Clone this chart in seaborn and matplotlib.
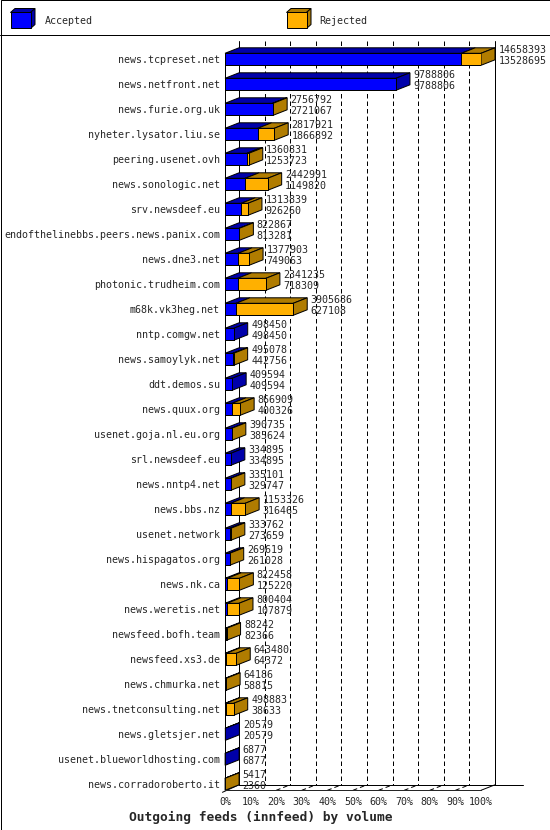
import numpy as np
import pandas as pd
import matplotlib
matplotlib.use("Agg")
import matplotlib.pyplot as plt
from matplotlib.patches import Polygon, Rectangle
import seaborn as sns

# ---------------- data ----------------
hosts = [
    "news.tcpreset.net", "news.netfront.net", "news.furie.org.uk",
    "nyheter.lysator.liu.se", "peering.usenet.ovh", "news.sonologic.net",
    "srv.newsdeef.eu", "endofthelinebbs.peers.news.panix.com", "news.dne3.net",
    "photonic.trudheim.com", "m68k.vk3heg.net", "nntp.comgw.net",
    "news.samoylyk.net", "ddt.demos.su", "news.quux.org",
    "usenet.goja.nl.eu.org", "srl.newsdeef.eu", "news.nntp4.net",
    "news.bbs.nz", "usenet.network", "news.hispagatos.org", "news.nk.ca",
    "news.weretis.net", "newsfeed.bofh.team", "newsfeed.xs3.de",
    "news.chmurka.net", "news.tnetconsulting.net", "news.gletsjer.net",
    "usenet.blueworldhosting.com", "news.corradoroberto.it",
]
total_volume = [
    14658393, 9788806, 2756792, 2817921, 1360831, 2442991, 1313839, 822867,
    1377903, 2341235, 3905686, 498450, 495078, 409594, 866909, 390735,
    334895, 335101, 1153326, 333762, 269619, 822458, 800404, 88242, 643480,
    64186, 498883, 20579, 6877, 5417,
]
accepted_volume = [
    13528695, 9788806, 2721067, 1866892, 1253723, 1149820, 926260, 813281,
    749063, 718309, 627108, 498450, 442756, 409594, 400326, 385624,
    334895, 329747, 316465, 273659, 261028, 125220, 107879, 82366, 64372,
    58815, 38633, 20579, 6877, 2360,
]
legend_labels = ["Accepted", "Rejected"]
tick_values = [0, 10, 20, 30, 40, 50, 60, 70, 80, 90, 100]
tick_labels = ["0%", "10%", "20%", "30%", "40%", "50%", "60%", "70%", "80%", "90%", "100%"]
title = "Outgoing feeds (innfeed) by volume"

# ---------------- style ----------------
BLUE, BLUE_D = "#0000ff", "#0000aa"
ORANGE, ORANGE_D = "#ffb000", "#b07c00"
LW = 0.72
sns.set_style("white")
plt.rcParams["font.family"] = ["DejaVu Sans Mono"]
plt.rcParams["font.size"] = 7.2

W, H = 550, 830
fig = plt.figure(figsize=(W / 100, H / 100), dpi=100)

# background / frame / legend in pixel coordinates
bg = fig.add_axes([0, 0, 1, 1])
bg.set_xlim(0, W)
bg.set_ylim(H, 0)
bg.axis("off")
bg.add_patch(Rectangle((0.5, 0.5), W - 1, H - 1, fill=False, lw=LW, ec="black"))
bg.plot([0, W], [35, 35], color="black", lw=LW)


def cube(axis, x0, y0, w, h, d, dyy, front, dark):
    axis.add_patch(Polygon([(x0, y0), (x0 + w, y0), (x0 + w + d, y0 - dyy), (x0 + d, y0 - dyy)],
                           closed=True, fc=dark, ec="black", lw=LW))
    axis.add_patch(Polygon([(x0 + w, y0), (x0 + w + d, y0 - dyy), (x0 + w + d, y0 + h - dyy), (x0 + w, y0 + h)],
                           closed=True, fc=dark, ec="black", lw=LW))
    axis.add_patch(Rectangle((x0, y0), w, h, fc=front, ec="black", lw=LW))


cube(bg, 10.5, 12.5, 20, 16, 4.5, 4, BLUE, BLUE_D)
bg.text(44.5, 20.5, legend_labels[0], va="center", ha="left", fontsize=7.2)
cube(bg, 286.5, 12.5, 20, 16, 4.5, 4, ORANGE, ORANGE_D)
bg.text(319.5, 20.5, legend_labels[1], va="center", ha="left", fontsize=7.2)
bg.text(260.5, 817, title, ha="center", va="center", fontsize=9.3, fontweight="bold")

# ---------------- main plot ----------------
x0_px, px_per_pct = 225.0, 2.56
row0_px, row_px = 59.3, 25.0
top_px, bot_px = 41.0, 790.3
ax = fig.add_axes([x0_px / W, (H - bot_px) / H, 100 * px_per_pct / W, (bot_px - top_px) / H])
ax.patch.set_alpha(0)

n = len(hosts)
vmax = max(total_volume)
df = pd.DataFrame({
    "host": hosts,
    "total": np.array(total_volume) / vmax * 100,
    "accepted": np.array(accepted_volume) / vmax * 100,
})

bw = 0.48
sns.barplot(data=df, x="total", y="host", orient="h", color=ORANGE, saturation=1,
            width=bw, edgecolor="black", linewidth=LW, errorbar=None, ax=ax)
sns.barplot(data=df, x="accepted", y="host", orient="h", color=BLUE, saturation=1,
            width=bw, edgecolor="black", linewidth=LW, errorbar=None, ax=ax)
for p in ax.patches:
    p.set_zorder(3)

ylo = (top_px - row0_px) / row_px
yhi = (bot_px - row0_px) / row_px
ax.set_xlim(0, 100)
ax.set_ylim(yhi, ylo)

dx = 14.0 / px_per_pct
dy = 5.5 / row_px
floor_back = yhi - dy

# back wall and grid
for p in tick_values[1:-1]:
    ax.plot([p + dx, p + dx], [ylo, floor_back], color="black", lw=LW,
            ls=(0, (4.5, 3)), zorder=0.5, clip_on=False)
for p in tick_values[2:-1]:
    ax.plot([p, p + dx], [yhi, floor_back], color="black", lw=LW,
            ls=(0, (4.5, 3)), zorder=0.5, clip_on=False)
ax.plot([dx, dx], [ylo, floor_back], color="black", lw=LW, zorder=0.6, clip_on=False)
ax.plot([100 + dx, 100 + dx], [ylo, floor_back], color="black", lw=LW, zorder=0.6, clip_on=False)
ax.plot([dx, (523 - x0_px) / px_per_pct], [floor_back, floor_back], color="black", lw=LW,
        zorder=0.6, clip_on=False)
ax.plot([100, 100 + dx], [yhi, floor_back], color="black", lw=LW, zorder=0.6, clip_on=False)
ax.plot([-1.0, dx], [yhi + 0.08, floor_back], color="black", lw=LW, zorder=0.6, clip_on=False)
ax.plot([0, 0], [-bw / 2, yhi], color="black", lw=LW, zorder=4, clip_on=False)

# 3D top and side faces
for i, (t, a) in enumerate(zip(df["total"], df["accepted"])):
    yf = i - bw / 2
    yb = yf - dy
    a = min(a, t)
    ax.add_patch(Polygon([(0, yf), (a, yf), (a + dx, yb), (dx, yb)], closed=True,
                         fc=BLUE_D, ec="black", lw=LW, zorder=2.5, clip_on=False))
    if t > a:
        ax.add_patch(Polygon([(a, yf), (t, yf), (t + dx, yb), (a + dx, yb)], closed=True,
                             fc=ORANGE_D, ec="black", lw=LW, zorder=2.5, clip_on=False))
    side = ORANGE_D if t > a else BLUE_D
    ax.add_patch(Polygon([(t, yf), (t + dx, yb), (t + dx, yb + bw), (t, yf + bw)], closed=True,
                         fc=side, ec="black", lw=LW, zorder=2.6, clip_on=False))
    lx = t + dx + 3.5 / px_per_pct
    ax.text(lx, i - 9.2 / row_px, f"{total_volume[i]}", ha="left", va="center", fontsize=7.2, zorder=5)
    ax.text(lx, i + 1.5 / row_px, f"{accepted_volume[i]}", ha="left", va="center", fontsize=7.2, zorder=5)

for s in ["top", "right", "left"]:
    ax.spines[s].set_visible(False)
ax.spines["bottom"].set_linewidth(LW)
ax.spines["bottom"].set_zorder(4)
ax.set_xticks(tick_values)
ax.set_xticklabels(tick_labels)
ax.tick_params(axis="x", length=3.6, width=LW, pad=1.5, direction="out", labelsize=7.2)
ax.tick_params(axis="y", length=0, pad=3.6, labelsize=7.2)
ax.set_xlabel("")
ax.set_ylabel("")

fig.savefig("out.png", dpi=100)
